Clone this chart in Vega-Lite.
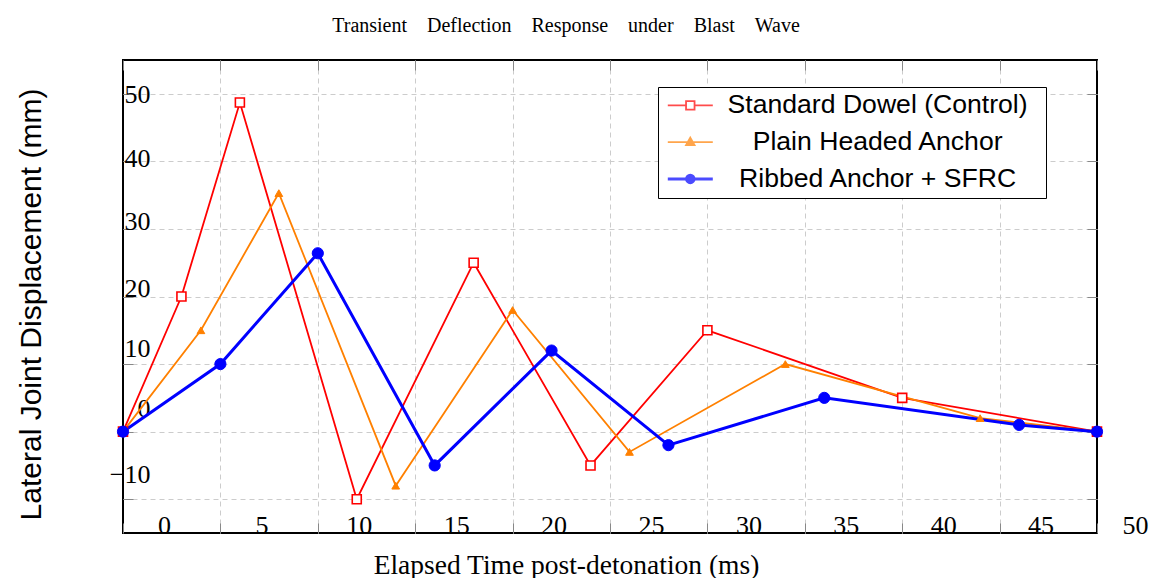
{
  "$schema": "https://vega.github.io/schema/vega-lite/v6.json",
  "autosize": {"type": "none"},
  "padding": {"left": 123, "top": 60, "right": 61, "bottom": 45},
  "width": 974,
  "height": 473,
  "background": "white",
  "title": {
    "text": "Transient\u00a0\u00a0\u00a0\u00a0Deflection\u00a0\u00a0\u00a0\u00a0Response\u00a0\u00a0\u00a0\u00a0under\u00a0\u00a0\u00a0\u00a0Blast\u00a0\u00a0\u00a0\u00a0Wave",
    "font": "Liberation Serif",
    "fontSize": 20,
    "fontWeight": "normal",
    "color": "black",
    "anchor": "middle",
    "frame": "group",
    "baseline": "alphabetic",
    "offset": 8,
    "dx": -44
  },
  "config": {
    "view": {"stroke": "black", "strokeWidth": 2},
    "axis": {"labelFlush": false, "labelOverlap": false}
  },
  "data": {
    "values": [
      {"series": "Standard Dowel (Control)", "t": 0, "d": 0},
      {"series": "Standard Dowel (Control)", "t": 3, "d": 20},
      {"series": "Standard Dowel (Control)", "t": 6, "d": 48.7},
      {"series": "Standard Dowel (Control)", "t": 12, "d": -10},
      {"series": "Standard Dowel (Control)", "t": 18, "d": 25},
      {"series": "Standard Dowel (Control)", "t": 24, "d": -5},
      {"series": "Standard Dowel (Control)", "t": 30, "d": 15},
      {"series": "Standard Dowel (Control)", "t": 40, "d": 5},
      {"series": "Standard Dowel (Control)", "t": 50, "d": 0},
      {"series": "Plain Headed Anchor", "t": 0, "d": 0},
      {"series": "Plain Headed Anchor", "t": 4, "d": 15},
      {"series": "Plain Headed Anchor", "t": 8, "d": 35.3},
      {"series": "Plain Headed Anchor", "t": 14, "d": -8},
      {"series": "Plain Headed Anchor", "t": 20, "d": 18},
      {"series": "Plain Headed Anchor", "t": 26, "d": -3},
      {"series": "Plain Headed Anchor", "t": 34, "d": 10},
      {"series": "Plain Headed Anchor", "t": 44, "d": 2},
      {"series": "Plain Headed Anchor", "t": 50, "d": 0},
      {"series": "Ribbed Anchor + SFRC", "t": 0, "d": 0},
      {"series": "Ribbed Anchor + SFRC", "t": 5, "d": 10},
      {"series": "Ribbed Anchor + SFRC", "t": 10, "d": 26.4},
      {"series": "Ribbed Anchor + SFRC", "t": 16, "d": -5},
      {"series": "Ribbed Anchor + SFRC", "t": 22, "d": 12},
      {"series": "Ribbed Anchor + SFRC", "t": 28, "d": -2},
      {"series": "Ribbed Anchor + SFRC", "t": 36, "d": 5},
      {"series": "Ribbed Anchor + SFRC", "t": 46, "d": 1},
      {"series": "Ribbed Anchor + SFRC", "t": 50, "d": 0}
    ]
  },
  "resolve": {"axis": {"x": "independent", "y": "independent"}},
  "layer": [
    {
      "transform": [{"filter": {"field": "series", "equal": "Standard Dowel (Control)"}}],
      "mark": {"type": "line", "color": "#ff0000", "strokeWidth": 1.8},
      "encoding": {
        "x": {
          "field": "t", "type": "quantitative",
          "scale": {"domain": [0, 50], "nice": false, "zero": false},
          "axis": {
            "orient": "bottom",
            "values": [0, 5, 10, 15, 20, 25, 30, 35, 40, 45, 50],
            "grid": true,
            "gridColor": {"condition": {"test": "datum.value == 0 || datum.value == 50", "value": "transparent"}, "value": "#cccccc"},
            "gridDash": [5, 4], "gridWidth": 1,
            "labels": false, "domain": false,
            "ticks": true, "tickSize": -10, "tickColor": "#888888", "tickWidth": 1,
            "title": "Elapsed Time post-detonation (ms)",
            "titleFont": "Liberation Serif", "titleFontSize": 27.5, "titleFontWeight": "normal",
            "titleColor": "black", "titleX": 443, "titleY": 40,
            "titleBaseline": "alphabetic", "titleAlign": "center", "titleAnchor": null
          }
        },
        "y": {
          "field": "d", "type": "quantitative",
          "scale": {"domain": [-15, 55], "nice": false, "zero": false},
          "axis": {
            "orient": "left",
            "values": [-10, 0, 10, 20, 30, 40, 50],
            "grid": true, "gridColor": "#cccccc", "gridDash": [5, 4], "gridWidth": 1,
            "labels": false, "domain": false,
            "ticks": true, "tickSize": -10, "tickColor": "#888888", "tickWidth": 1,
            "title": "Lateral Joint Displacement (mm)",
            "titleFont": "Liberation Sans", "titleFontSize": 30, "titleFontWeight": "normal",
            "titleColor": "black", "titleX": -83, "titleY": 244, "titleAngle": -90,
            "titleBaseline": "alphabetic", "titleAlign": "center"
          }
        }
      }
    },
    {
      "transform": [{"filter": {"field": "series", "equal": "Plain Headed Anchor"}}],
      "mark": {"type": "line", "color": "#ff8000", "strokeWidth": 1.8},
      "encoding": {
        "x": {"field": "t", "type": "quantitative", "axis": null},
        "y": {"field": "d", "type": "quantitative", "axis": null}
      }
    },
    {
      "transform": [{"filter": {"field": "series", "equal": "Ribbed Anchor + SFRC"}}],
      "mark": {"type": "line", "color": "#0000ff", "strokeWidth": 3},
      "encoding": {
        "x": {"field": "t", "type": "quantitative", "axis": null},
        "y": {"field": "d", "type": "quantitative", "axis": null}
      }
    },
    {
      "transform": [{"filter": {"field": "series", "equal": "Standard Dowel (Control)"}}],
      "mark": {"type": "point", "shape": "square", "filled": false, "fill": "#ffffff", "stroke": "#ff0000", "strokeWidth": 1.6, "size": 81, "opacity": 1},
      "encoding": {
        "x": {
          "field": "t", "type": "quantitative",
          "axis": {
            "orient": "top", "values": [0, 5, 10, 15, 20, 25, 30, 35, 40, 45, 50],
            "grid": false, "labels": false, "domain": false,
            "ticks": true, "tickSize": -10, "tickColor": "#888888", "tickWidth": 1,
            "title": null
          }
        },
        "y": {
          "field": "d", "type": "quantitative",
          "axis": {
            "orient": "right", "values": [-10, 0, 10, 20, 30, 40, 50],
            "grid": false, "labels": false, "domain": false,
            "ticks": true, "tickSize": -10, "tickColor": "#888888", "tickWidth": 1,
            "title": null
          }
        }
      }
    },
    {
      "transform": [{"filter": {"field": "series", "equal": "Plain Headed Anchor"}}],
      "mark": {"type": "point", "shape": "triangle-up", "filled": true, "fill": "#ff8000", "stroke": "#ff8000", "strokeWidth": 1, "size": 60, "opacity": 1},
      "encoding": {
        "x": {"field": "t", "type": "quantitative", "axis": null},
        "y": {"field": "d", "type": "quantitative", "axis": null}
      }
    },
    {
      "transform": [{"filter": {"field": "series", "equal": "Ribbed Anchor + SFRC"}}],
      "mark": {"type": "point", "shape": "circle", "filled": true, "fill": "#0000ff", "stroke": "#0000ff", "strokeWidth": 1, "size": 125, "opacity": 1},
      "encoding": {
        "x": {"field": "t", "type": "quantitative", "axis": null},
        "y": {"field": "d", "type": "quantitative", "axis": null}
      }
    },
    {
      "transform": [{"filter": "false"}],
      "mark": {"type": "point", "filled": false, "size": 100},
      "encoding": {
        "x": {
          "field": "t", "type": "quantitative",
          "axis": {
            "orient": "bottom", "values": [0, 5, 10, 15, 20, 25, 30, 35, 40, 45, 50],
            "grid": false, "ticks": false, "domain": false,
            "labelFont": "Liberation Serif", "labelFontSize": 26, "labelColor": "black",
            "labelOffset": {"condition": {"test": "datum.value == 50", "value": 38}, "value": 41},
            "labelPadding": 0, "labelBaseline": "alphabetic", "labelAlign": "center",
            "title": null
          }
        },
        "y": {
          "field": "d", "type": "quantitative",
          "axis": {
            "orient": "left", "values": [-10, 0, 10, 20, 30, 40, 50],
            "grid": false, "ticks": false, "domain": false,
            "labelFont": "Liberation Serif", "labelFontSize": 26, "labelColor": "black",
            "labelAlign": "right", "labelBaseline": "middle", "labelPadding": -27,
            "labelOffset": {
              "condition": [
                {"test": "datum.value == 40", "value": -3},
                {"test": "datum.value == 30", "value": -7},
                {"test": "datum.value == 20", "value": -8},
                {"test": "datum.value == 10", "value": -16},
                {"test": "datum.value == 0", "value": -23},
                {"test": "datum.value == -10", "value": -25}
              ],
              "value": 1
            },
            "title": null
          }
        },
        "color": {
          "field": "series", "type": "nominal",
          "scale": {
            "domain": ["Standard Dowel (Control)", "Plain Headed Anchor", "Ribbed Anchor + SFRC"],
            "range": ["#ff0000", "#ff8000", "#0000ff"]
          },
          "legend": {
            "orient": "none", "legendX": 535, "legendY": 27,
            "title": "I", "titleOrient": "right", "titleOpacity": 0, "titleFontSize": 10, "titlePadding": 10,
            "padding": 5, "rowPadding": 9.8,
            "fillColor": "white", "strokeColor": "black",
            "symbolSize": 100, "symbolOffset": 14,
            "labelFont": "Liberation Sans", "labelFontSize": 26.6, "labelColor": "black",
            "labelAlign": "center", "labelBaseline": "middle", "labelOffset": 174, "labelLimit": 600
          }
        },
        "shape": {
          "field": "series", "type": "nominal",
          "scale": {
            "domain": ["Standard Dowel (Control)", "Plain Headed Anchor", "Ribbed Anchor + SFRC"],
            "range": [
              "M-4.5,0H-0.85M0.85,0H4.5M-0.85,-0.85H0.85V0.85H-0.85Z",
              "M-4.5,0H4.5M0,-0.9L0.85,0.6H-0.85ZM0,-0.4L0.4,0.3H-0.4ZM0,-0.1L0.1,0.08H-0.1Z",
              "M-4.5,0H4.5M0.75,0A0.75,0.75 0 1 1 -0.75,0A0.75,0.75 0 1 1 0.75,0M0.2,0A0.2,0.2 0 1 1 -0.2,0A0.2,0.2 0 1 1 0.2,0"
            ]
          },
          "legend": {
            "orient": "none", "legendX": 535, "legendY": 27,
            "title": "I", "titleOrient": "right", "titleOpacity": 0, "titleFontSize": 10, "titlePadding": 10,
            "padding": 5, "rowPadding": 9.8,
            "fillColor": "white", "strokeColor": "black",
            "symbolSize": 100, "symbolOffset": 14,
            "labelFont": "Liberation Sans", "labelFontSize": 26.6, "labelColor": "black",
            "labelAlign": "center", "labelBaseline": "middle", "labelOffset": 174, "labelLimit": 600
          }
        },
        "strokeWidth": {
          "field": "series", "type": "nominal",
          "scale": {
            "type": "ordinal",
            "domain": ["Standard Dowel (Control)", "Plain Headed Anchor", "Ribbed Anchor + SFRC"],
            "range": [1.8, 1.8, 3]
          },
          "legend": {
            "orient": "none", "legendX": 535, "legendY": 27,
            "title": "I", "titleOrient": "right", "titleOpacity": 0, "titleFontSize": 10, "titlePadding": 10,
            "padding": 5, "rowPadding": 9.8,
            "fillColor": "white", "strokeColor": "black",
            "symbolSize": 100, "symbolOffset": 14,
            "labelFont": "Liberation Sans", "labelFontSize": 26.6, "labelColor": "black",
            "labelAlign": "center", "labelBaseline": "middle", "labelOffset": 174, "labelLimit": 600
          }
        }
      }
    }
  ]
}
